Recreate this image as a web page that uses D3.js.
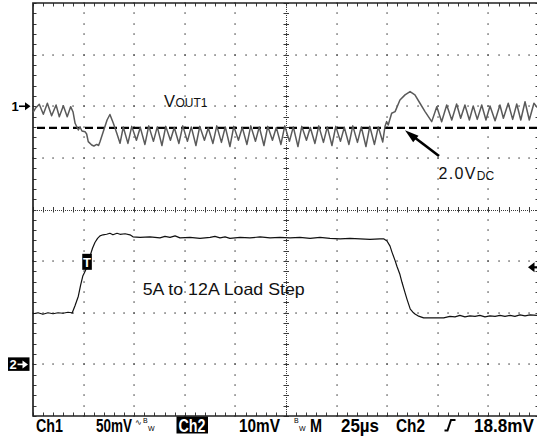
<!DOCTYPE html>
<html><head><meta charset="utf-8">
<script src="https://cdn.jsdelivr.net/npm/d3@7"></script>
<style>body{margin:0;background:#fff}svg{display:block}</style>
</head><body>
<svg id="c" width="537" height="439"></svg>
<script>
// ---------- data ----------
const timeDomain = [0, 250];          // µs across 10 divisions (25 µs/div)
const ch1PerDiv = 50;                 // mV/div
const ch2PerDiv = 10;                 // mV/div
const ch1Position = 2;                // divisions above centre
const ch2Position = -3;               // divisions below centre
const dcLevel = -21;                  // mV, 2.0 V DC reference (ch1)
const trigLevel = 18.8;               // mV on ch2
const trigTime = 26.7;                // µs

// Ch1 : VOUT1 ripple / transient  [time µs, mV]
const ch1Trace = [
 [0,-6],[1.2,-2],[3.1,1.9],[5.1,-7.8],[7.1,2.9],[9.2,-9.2],[11.4,1.2],[13.0,-10.1],
 [15.0,0.5],[16.9,-10.1],[18.6,-0.4],[19.8,-5.6],[20.8,-16.5],[22.4,-23.0],[23.2,-20.1],
 [24.2,-24.0],[25.7,-24.6],[26.5,-26.9],[27.3,-34.3],[29.0,-37.5],[30.1,-38.5],[31.5,-37.0],
 [32.4,-38.0],[33.1,-34.3],[34.7,-24.6],[36.6,-13.3],[38.0,-8.0],[39.7,-16.5],[41.4,-26.2],
 [43.0,-35.9],[44.6,-20.1],[46.9,-36],[48.8,-19.5],[51.1,-33],[53.0,-20.5],[55.3,-37],
 [57.2,-19.0],[59.5,-34],[61.4,-20.0],[63.7,-38],[65.6,-19.5],[67.9,-33],[69.8,-20.5],
 [72.1,-36],[74.0,-19.0],[76.3,-34],[78.2,-20.0],[80.5,-38],[82.4,-19.5],[84.7,-33],
 [86.6,-21.0],[88.9,-36],[90.8,-19.0],[93.1,-35],[95.0,-20.0],[97.3,-39],[99.2,-19.5],
 [101.5,-33],[103.4,-20.5],[105.7,-37],[107.6,-19.0],[109.9,-34],[111.8,-20.0],[114.1,-38],
 [116.0,-19.5],[118.3,-33],[120.2,-20.5],[122.5,-37],[124.4,-19.0],[126.7,-34],[128.6,-20.0],
 [130.9,-39],[132.8,-19.5],[135.1,-33],[137.0,-20.5],[139.3,-36],[141.2,-19.0],[143.5,-35],
 [145.4,-20.0],[147.7,-38],[149.6,-19.5],[151.9,-34],[153.8,-20.5],[156.1,-37],[158.0,-19.0],
 [160.3,-35],[162.2,-20.0],[164.5,-39],[166.4,-19.5],[168.7,-37],[170.6,-20.0],[172.8,-34.6],
 [173.9,-19.6],[174.7,-14.9],[175.5,-18.2],[177.2,-6.8],[178.9,-5.2],[181.3,6.1],[183.8,11.0],
 [186.3,14.2],[188.7,11.0],[191.2,2.9],[193.7,-5.2],[197.0,-14.9],[199.5,-0.4],[201.9,-15.0],
 [204.4,1.2],[206.9,-13.3],[209.3,2.2],[211.3,-11.6],[213.4,1.2],[215.6,-13.3],[217.5,0.2],
 [219.5,-12.7],[221.7,1.2],[223.8,-13.3],[225.8,0.2],[228.3,-14.0],[230.7,1.2],[232.4,-11.6],
 [234.8,2.9],[237.0,-12.7],[239.0,2.2],[241.0,-13.3],[243.1,4.4],[245.2,-13.3],[247.5,2.9],
 [249.5,-2]
];

// Ch2 : load-step current sense  [time µs, mV]
const ch2Trace = [
 [0,9.8],[2.5,10.0],[4.9,9.7],[7.4,10.0],[9.9,9.8],[12.4,10.0],[14.8,9.9],[17.3,10.1],[19.1,10.0],
 [19.3,9.9],[20.8,11.4],[22.4,13.2],[23.5,15.3],[24.6,17.1],[25.7,18.0],[26.8,19.0],[28.2,21.0],
 [29.4,22.5],[30.6,23.6],[31.9,24.4],[33.1,24.9],[34.6,25.1],[36.4,25.2],[38,25.4],[39.5,25.1],
 [41.5,25.4],[43,25.2],[45.5,25.3],[47.9,25.1],[49.4,24.7],[52.9,24.6],[57.8,24.7],[62.7,24.5],
 [65.2,24.8],[67.7,24.6],[70.2,24.9],[72.6,24.5],[77.6,24.6],[82.5,24.4],[87.5,24.6],[89.9,24.8],
 [92.4,24.5],[94.9,24.7],[97.3,24.4],[102.3,24.6],[107.2,24.5],[112.2,24.7],[117.1,24.5],
 [122,24.6],[127,24.5],[131.9,24.6],[136.9,24.4],[141.8,24.6],[146.7,24.4],[151.7,24.3],
 [156.6,24.4],[161.6,24.3],[166.5,24.2],[171.4,24.3],[173.4,24.3],[174.9,23.9],[176.4,22.9],
 [177.4,21.7],[178.9,20.1],[179.8,19.0],[181.3,17.4],[182.3,15.9],[183.8,13.9],[184.8,12.6],
 [186.4,10.7],[187.7,10.1],[188.9,9.7],[190.2,9.4],[193,9.0],[202.9,9.0],[206,9.3],[208.5,9.2],
 [210.9,9.5],[213.4,9.2],[215.9,9.4],[218.4,9.3],[220.8,9.5],[223.3,9.2],[225.8,9.4],[228.3,9.3],
 [230.7,9.5],[233.2,9.3],[235.7,9.5],[238.1,9.3],[240.6,9.6],[243.1,9.4],[245.6,9.6],[249,9.5]
];

// status bar texts
const statusTexts = ["Ch1","50mV","Ch2","10mV","M","25µs","Ch2","18.8mV"];
const annotations = {vout:["V","OUT1"], dc:["2.0V","DC"], load:"5A to 12A Load Step"};

// ---------- layout ----------
const L = 33, R = 539, T = 3, B = 416;
const svg = d3.select("#c");
const x = d3.scaleLinear().domain(timeDomain).range([L, R]);
const dv = d3.scaleLinear().domain([-4, 4]).range([B, T]);      // divisions
const dh = d3.scaleLinear().domain([-5, 5]).range([L, R]);
const y1 = d3.scaleLinear().domain([(-4 - ch1Position) * ch1PerDiv, (4 - ch1Position) * ch1PerDiv]).range([B, T]);
const y2 = d3.scaleLinear().domain([(-4 - ch2Position) * ch2PerDiv, (4 - ch2Position) * ch2PerDiv]).range([B, T]);

const g = svg.append("g");
const gridCol = "#3a3a3a";

// dotted major grid
for (let i = -4; i <= 4; i++) {
  if (i === 0) continue;
  for (let j = -20; j <= 20; j++) {
    g.append("rect").attr("x", Math.round(dh(i)) - 0.6).attr("y", Math.round(dv(j / 5)) - 0.6).attr("width", 1.3).attr("height", 1.3).attr("fill", gridCol);
  }
}
for (let k = -3; k <= 3; k++) {
  if (k === 0) continue;
  for (let j = -25; j <= 25; j++) {
    g.append("rect").attr("x", Math.round(dh(j / 5)) - 0.6).attr("y", Math.round(dv(k)) - 0.6).attr("width", 1.3).attr("height", 1.3).attr("fill", gridCol);
  }
}
// centre lines
g.append("line").attr("x1", L).attr("x2", R).attr("y1", Math.round(dv(0)) + 0.5).attr("y2", Math.round(dv(0)) + 0.5)
  .attr("stroke", gridCol).attr("stroke-width", 1).attr("stroke-dasharray", "1,1");
g.append("line").attr("x1", Math.round(dh(0)) + 0.5).attr("x2", Math.round(dh(0)) + 0.5).attr("y1", T).attr("y2", B)
  .attr("stroke", gridCol).attr("stroke-width", 1).attr("stroke-dasharray", "1,1");
for (let j = -25; j <= 25; j++) {
  const xx = Math.round(dh(j / 5)) + 0.5;
  g.append("line").attr("x1", xx).attr("x2", xx).attr("y1", dv(0) - 2.5).attr("y2", dv(0) + 3).attr("stroke", gridCol);
  g.append("line").attr("x1", xx).attr("x2", xx).attr("y1", T).attr("y2", T + 3.5).attr("stroke", gridCol);
  g.append("line").attr("x1", xx).attr("x2", xx).attr("y1", B - 3.5).attr("y2", B).attr("stroke", gridCol);
}
for (let j = -20; j <= 20; j++) {
  const yy = Math.round(dv(j / 5)) + 0.5;
  g.append("line").attr("y1", yy).attr("y2", yy).attr("x1", dh(0) - 2.5).attr("x2", dh(0) + 3).attr("stroke", gridCol);
  g.append("line").attr("y1", yy).attr("y2", yy).attr("x1", L).attr("x2", L + 3.5).attr("stroke", gridCol);
  g.append("line").attr("y1", yy).attr("y2", yy).attr("x1", R - 3.5).attr("x2", R).attr("stroke", gridCol);
}
// frame
g.append("path").attr("d", `M${L},${B}V${T}H${R}V${B}Z`).attr("fill", "none").attr("stroke", "#222").attr("stroke-width", 1.7);

// 2.0V DC dashed line
svg.append("line").attr("x1", L + 4).attr("x2", R).attr("y1", y1(dcLevel)).attr("y2", y1(dcLevel))
  .attr("stroke", "#000").attr("stroke-width", 2.2).attr("stroke-dasharray", "8,4");

// traces
const line1 = d3.line().x(d => x(d[0])).y(d => y1(d[1]));
const line2 = d3.line().x(d => x(d[0])).y(d => y2(d[1]));
svg.append("path").attr("d", line1(ch1Trace)).attr("fill", "none").attr("stroke", "#5a5a5a").attr("stroke-width", 1.5).attr("stroke-linejoin", "round");
svg.append("path").attr("d", line2(ch2Trace)).attr("fill", "none").attr("stroke", "#111").attr("stroke-width", 1.2).attr("stroke-linejoin", "round");

// trigger "T" marker
const tx = x(trigTime), ty = y2(trigLevel);
svg.append("rect").attr("x", tx - 4.8).attr("y", ty - 13.5).attr("width", 9.6).attr("height", 16).attr("fill", "#000");
svg.append("text").attr("x", tx).attr("y", ty - 0.5).attr("text-anchor", "middle").attr("fill", "#fff")
  .attr("font-family", "Liberation Sans, Arial, sans-serif").attr("font-weight", "bold").attr("font-size", 13).text("T");

// trigger level arrow (right)
svg.append("path").attr("d", `M${R - 11},${ty} L${R - 4.5},${ty - 5} L${R - 4.5},${ty + 5} Z`).attr("fill", "#000");
svg.append("line").attr("x1", R - 6).attr("x2", R).attr("y1", ty).attr("y2", ty).attr("stroke", "#000").attr("stroke-width", 2.2);

// channel markers
const font = "Liberation Sans, Arial, Helvetica, sans-serif";
const m1 = y1(0);
svg.append("text").attr("x", 11.5).attr("y", m1 + 4.5).attr("font-family", font).attr("font-weight", "bold").attr("font-size", 13).text("1");
svg.append("line").attr("x1", 19).attr("x2", 26).attr("y1", m1).attr("y2", m1).attr("stroke", "#000").attr("stroke-width", 1.6);
svg.append("path").attr("d", `M30.5,${m1} L25,${m1 - 4} L25,${m1 + 4} Z`).attr("fill", "#000");
const m2 = y2(0);
svg.append("rect").attr("x", 8).attr("y", m2 - 7).attr("width", 21.5).attr("height", 13.5).attr("fill", "#000");
svg.append("text").attr("x", 9.5).attr("y", m2 + 4.5).attr("fill", "#fff").attr("font-family", font).attr("font-weight", "bold").attr("font-size", 13).text("2");
svg.append("line").attr("x1", 17.5).attr("x2", 23).attr("y1", m2).attr("y2", m2).attr("stroke", "#fff").attr("stroke-width", 1.6);
svg.append("path").attr("d", `M28,${m2} L22.5,${m2 - 4} L22.5,${m2 + 4} Z`).attr("fill", "#fff");

// annotations
const ann = svg.append("g").attr("font-family", font).attr("fill", "#111");
const vt = ann.append("text").attr("x", 164).attr("y", 106.5);
vt.append("tspan").attr("font-size", 16.5).text(annotations.vout[0]);
vt.append("tspan").attr("font-size", 12).attr("dx", 0.5).text(annotations.vout[1]);
const dt = ann.append("text").attr("x", 438.5).attr("y", 178.5);
dt.append("tspan").attr("font-size", 16).attr("textLength", 37).text(annotations.dc[0]);
dt.append("tspan").attr("font-size", 12).attr("dy", 1).text(annotations.dc[1]);
ann.append("text").attr("x", 142.7).attr("y", 295).attr("font-size", 16.5)
  .attr("textLength", 162).attr("lengthAdjust", "spacingAndGlyphs").text(annotations.load);

// pointer arrow to DC line
svg.append("line").attr("x1", 439).attr("y1", 156).attr("x2", 412).attr("y2", 135.5).attr("stroke", "#000").attr("stroke-width", 2.6);
svg.append("path").attr("d", "M405,130.3 L418.5,135.8 L413.2,142.3 Z").attr("fill", "#000");

// status bar
svg.append("rect").attr("x", 176.5).attr("y", 416.5).attr("width", 31.5).attr("height", 17).attr("fill", "#000");
const sb = svg.append("g").attr("transform", "translate(0,432) scale(1,1.3)")
  .attr("font-family", font).attr("font-weight", "bold").attr("font-size", 14);
const sbX = [36, 96, 178.5, 239, 310, 341, 396, 474];
const sbW = [27, 36, 27, 41, 12, 38, 29, 60];
statusTexts.forEach((t, i) => {
  sb.append("text").attr("x", sbX[i]).attr("y", 0).attr("textLength", sbW[i]).attr("lengthAdjust", "spacingAndGlyphs")
    .attr("fill", i === 2 ? "#fff" : "#000").text(t);
});
// bandwidth / coupling symbols (single text elements with tspans)
const small = svg.append("g").attr("font-family", font).attr("font-size", 7).attr("fill", "#000");
const s1 = small.append("text").attr("x", 135).attr("y", 425);
s1.append("tspan").attr("font-size", 7.5).text("∿");
s1.append("tspan").attr("x", 143).attr("y", 423).text("B");
s1.append("tspan").attr("x", 148).attr("y", 431).text("W");
const s2 = small.append("text").attr("x", 294).attr("y", 423);
s2.append("tspan").text("B");
s2.append("tspan").attr("x", 299).attr("y", 431).text("W");
// rising edge symbol
svg.append("path").attr("d", "M444.5,430.5 H447.5 L451,420 H455.5").attr("fill", "none").attr("stroke", "#000").attr("stroke-width", 2);
</script>
</body></html>
